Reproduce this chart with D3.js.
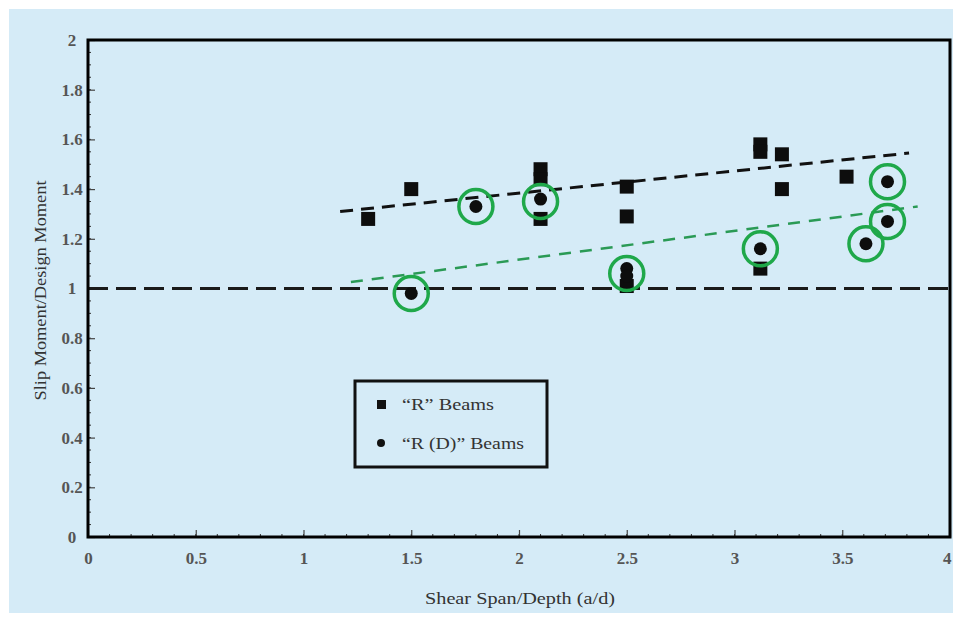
<!DOCTYPE html>
<html><head><meta charset="utf-8">
<script src="https://cdn.jsdelivr.net/npm/d3@7"></script>
<style>
body{margin:0;background:#fff;}
svg{display:block;}
text{font-family:"Liberation Serif","DejaVu Serif",serif;}
</style></head>
<body>
<svg id="c" width="953" height="617"></svg>
<script>
// ---- data ----
const xTicks = [0, 0.5, 1, 1.5, 2, 2.5, 3, 3.5, 4];
const xTickLabels = ["0", "0.5", "1", "1.5", "2", "2.5", "3", "3.5", "4"];
const yTicks = [0, 0.2, 0.4, 0.6, 0.8, 1, 1.2, 1.4, 1.6, 1.8, 2];
const yTickLabels = ["0", "0.2", "0.4", "0.6", "0.8", "1", "1.2", "1.4", "1.6", "1.8", "2"];
const rBeamsX = [1.3, 1.5, 2.1, 2.1, 2.1, 2.5, 2.5, 2.5, 3.12, 3.12, 3.12, 3.22, 3.22, 3.52];
const rBeamsY = [1.28, 1.40, 1.48, 1.44, 1.28, 1.41, 1.29, 1.01, 1.58, 1.55, 1.08, 1.54, 1.40, 1.45];
const rdBeamsX = [1.5, 1.8, 2.1, 2.5, 2.5, 3.12, 3.61, 3.71, 3.71];
const rdBeamsY = [0.98, 1.33, 1.36, 1.08, 1.05, 1.16, 1.18, 1.43, 1.27];
const ringX = [1.5, 1.8, 2.1, 2.5, 3.12, 3.61, 3.71, 3.71];
const ringY = [0.98, 1.33, 1.35, 1.06, 1.16, 1.18, 1.43, 1.27];
const rTrendX = [1.17, 3.81];
const rTrendY = [1.31, 1.545];
const rdTrendX = [1.22, 3.85];
const rdTrendY = [1.026, 1.33];
const refLineY = 1;
const legendLabels = ["\u201CR\u201D Beams", "\u201CR (D)\u201D Beams"];
const xTitle = "Shear Span/Depth (a/d)";
const yTitle = "Slip Moment/Design Moment";

// ---- layout ----
const svg = d3.select("#c");
const L = 88, R = 950, T = 40, B = 537;
const x = d3.scaleLinear().domain([0, 4]).range([L, R]);
const y = d3.scaleLinear().domain([0, 2]).range([B, T]);

svg.append("rect").attr("x", 9).attr("y", 9).attr("width", 944).attr("height", 604).attr("fill", "#d5ebf7");

// minor ticks
const g = svg.append("g");
const xMinor = d3.range(0, 4.0001, 0.1);
const yMinor = d3.range(0, 2.0001, 0.05);
g.selectAll(".xm").data(xMinor).join("line")
  .attr("x1", d => x(d)).attr("x2", d => x(d)).attr("y1", B).attr("y2", B - 3)
  .attr("stroke", "#333").attr("stroke-width", 1);
g.selectAll(".ym").data(yMinor).join("line")
  .attr("x1", L).attr("x2", L + 3).attr("y1", d => y(d)).attr("y2", d => y(d))
  .attr("stroke", "#333").attr("stroke-width", 1);

// major ticks via axes
const xAxis = d3.axisBottom(x).tickValues(xTicks).tickFormat((d, i) => xTickLabels[i]).tickSizeInner(-7).tickSizeOuter(0).tickPadding(15);
const yAxis = d3.axisLeft(y).tickValues(yTicks).tickFormat((d, i) => yTickLabels[i]).tickSizeInner(-7).tickSizeOuter(0).tickPadding(16);
const gx = svg.append("g").attr("transform", `translate(0,${B})`).call(xAxis);
const gy = svg.append("g").attr("transform", `translate(${L},0)`).call(yAxis);
[gx, gy].forEach(a => {
  a.attr("font-family", null).attr("font-size", null);
  a.select(".domain").remove();
  a.selectAll(".tick line").attr("stroke", "#444").attr("stroke-width", 1.2);
  a.selectAll(".tick text")
    .style("font-family", "'Liberation Serif', serif").style("font-size", "17px")
    .style("font-weight", "bold").attr("fill", "#555");
});
gy.selectAll(".tick text").attr("text-anchor", "middle").attr("x", -16);
gx.selectAll(".tick text").filter(d => d === 4).attr("text-anchor", "end").attr("dx", 1);

// reference line y=1
svg.append("line").attr("x1", L).attr("x2", R).attr("y1", y(refLineY)).attr("y2", y(refLineY))
  .attr("stroke", "#1a1a1a").attr("stroke-width", 3).attr("stroke-dasharray", "20,8");

// trend lines
svg.append("line").attr("x1", x(rTrendX[0])).attr("y1", y(rTrendY[0])).attr("x2", x(rTrendX[1])).attr("y2", y(rTrendY[1]))
  .attr("stroke", "#111").attr("stroke-width", 3).attr("stroke-dasharray", "13,8");
svg.append("line").attr("x1", x(rdTrendX[0])).attr("y1", y(rdTrendY[0])).attr("x2", x(rdTrendX[1])).attr("y2", y(rdTrendY[1]))
  .attr("stroke", "#2a9a55").attr("stroke-width", 2.5).attr("stroke-dasharray", "12,9");

// squares
const sq = 14;
svg.selectAll(".sq").data(rBeamsX.map((d, i) => [d, rBeamsY[i]])).join("rect")
  .attr("x", d => x(d[0]) - sq / 2).attr("y", d => y(d[1]) - sq / 2).attr("width", sq).attr("height", sq)
  .attr("fill", "#0d0d0d");
// dots
svg.selectAll(".dt").data(rdBeamsX.map((d, i) => [d, rdBeamsY[i]])).join("circle")
  .attr("cx", d => x(d[0])).attr("cy", d => y(d[1])).attr("r", 6.5).attr("fill", "#0d0d0d");
// green rings
svg.selectAll(".rg").data(ringX.map((d, i) => [d, ringY[i]])).join("circle")
  .attr("cx", d => x(d[0])).attr("cy", d => y(d[1])).attr("r", 17).attr("fill", "none")
  .attr("stroke", "#1fa84a").attr("stroke-width", 3.5);

// frame
svg.append("rect").attr("x", L).attr("y", T).attr("width", R - L).attr("height", B - T)
  .attr("fill", "none").attr("stroke", "#000").attr("stroke-width", 3);

// legend
const lg = svg.append("g");
lg.append("rect").attr("x", 355).attr("y", 381).attr("width", 192).attr("height", 86)
  .attr("fill", "none").attr("stroke", "#111").attr("stroke-width", 3);
lg.append("rect").attr("x", 377).attr("y", 400).attr("width", 9).attr("height", 9).attr("fill", "#111");
lg.append("circle").attr("cx", 381).attr("cy", 443).attr("r", 4).attr("fill", "#111");
const legendW = [92, 122];
lg.selectAll(".lt").data(legendLabels).join("text")
  .attr("x", 402).attr("y", (d, i) => 410 + i * 39).style("font-size", "16px").attr("fill", "#333")
  .attr("textLength", (d, i) => legendW[i]).attr("lengthAdjust", "spacingAndGlyphs").text(d => d);

// titles
svg.append("text").attr("x", 520).attr("y", 604).attr("text-anchor", "middle")
  .style("font-size", "16px").attr("fill", "#333")
  .attr("textLength", 190).attr("lengthAdjust", "spacingAndGlyphs").text(xTitle);
svg.append("text").attr("transform", `translate(46,${(T + B) / 2 + 2}) rotate(-90)`).attr("text-anchor", "middle")
  .style("font-size", "16px").attr("fill", "#333")
  .attr("textLength", 220).attr("lengthAdjust", "spacingAndGlyphs").text(yTitle);
</script>
</body></html>
